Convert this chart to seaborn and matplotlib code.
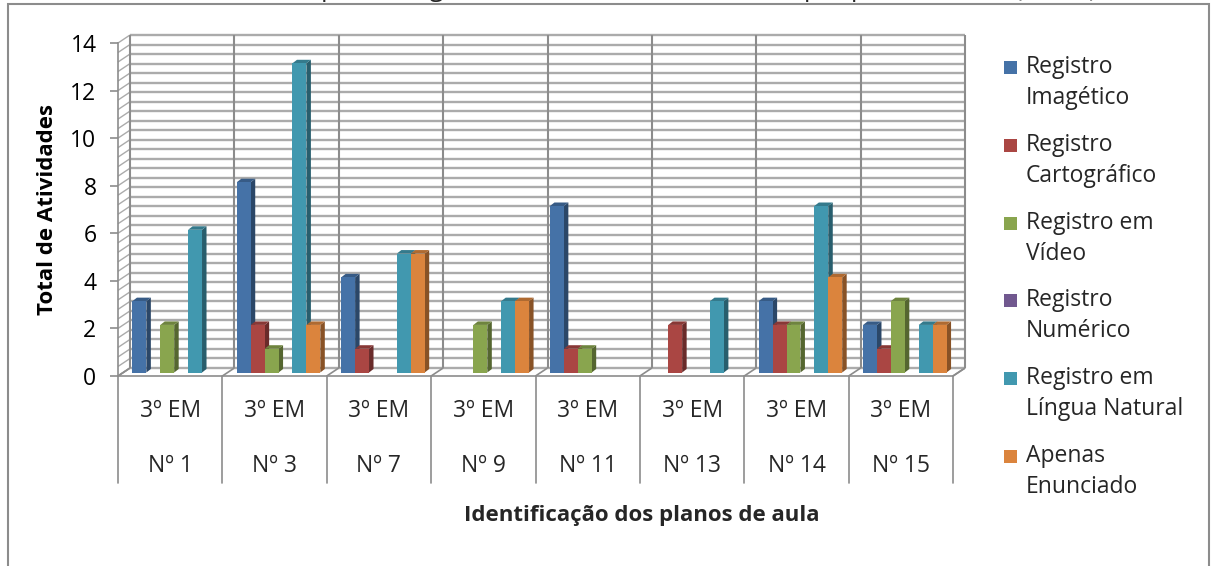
import numpy as np
import pandas as pd
import matplotlib
matplotlib.use("Agg")
import matplotlib.pyplot as plt
import matplotlib.transforms as mtrans
from matplotlib.patches import Polygon, Rectangle
from matplotlib.lines import Line2D
import seaborn as sns

# ---- data -------------------------------------------------------------
planos = ["Nº 1", "Nº 3", "Nº 7", "Nº 9", "Nº 11", "Nº 13", "Nº 14", "Nº 15"]
serie = "3º EM"
registros = ["Registro Imagético", "Registro Cartográfico", "Registro em Vídeo",
             "Registro Numérico", "Registro em Língua Natural", "Apenas Enunciado"]
legenda = [("Registro", "Imagético"), ("Registro", "Cartográfico"),
           ("Registro em", "Vídeo"), ("Registro", "Numérico"),
           ("Registro em", "Língua Natural"), ("Apenas", "Enunciado")]
imagetico = [3, 8, 4, 0, 7, 0, 3, 2]
cartografico = [0, 2, 1, 0, 1, 2, 2, 1]
video = [2, 1, 0, 2, 1, 0, 2, 3]
numerico = [0, 0, 0, 0, 0, 0, 0, 0]
lingua_natural = [6, 13, 5, 3, 0, 3, 7, 2]
apenas_enunciado = [0, 2, 5, 3, 0, 0, 4, 2]
cores = ["#4572A7", "#AA4643", "#89A54E", "#71588F", "#4198AF", "#DB843D"]
y_ticks = [0, 2, 4, 6, 8, 10, 12, 14]
titulo = "Tipos de registros utilizados nas atividades por plano de aula (3º EM)"

series = [imagetico, cartografico, video, numerico, lingua_natural, apenas_enunciado]
df = pd.DataFrame({
    "plano": np.tile(planos, len(registros)),
    "registro": np.repeat(registros, len(planos)),
    "total": np.concatenate(series),
})

# ---- figure -------------------------------------------------------------
sns.set_theme(style="white")
plt.rcParams["font.family"] = ["Open Sans", "DejaVu Sans"]
FS = 16.5      # regular text
FSB = 16       # bold axis titles

W, H = 1213, 566
fig = plt.figure(figsize=(W / 100, H / 100), dpi=100)
fig.patch.set_facecolor("white")


def fx(px):
    return px / W


def fy(py):
    return 1 - py / H


X0, X1, Y0, Y1 = 118, 953, 376, 43
ax = fig.add_axes([fx(X0), fy(Y0), fx(X1) - fx(X0), fy(Y1) - fy(Y0)])
ax.patch.set_visible(False)

WALL = (12.0, 8.0)     # depth shift of the back wall (pixels)
FRONT = (4.0, 3.5)     # shift of the bar front faces
DEPTH = (4.5, 3.5)     # bar thickness

grid_c = "#ABABAB"
edge_c = "#8C8C8C"

sns.barplot(data=df, x="plano", y="total", hue="registro", order=planos,
            hue_order=registros, palette=cores, saturation=1, width=0.8,
            edgecolor="none", linewidth=0, legend=False, ax=ax)
bars = sorted([p for p in ax.patches if isinstance(p, Rectangle)],
              key=lambda p: p.get_x())
ax.set_xlim(-0.5, len(planos) - 0.5)
ax.set_ylim(0, 14)

inv = fig.transFigure.inverted()


def pt(x, y, d=(0.0, 0.0)):
    px, py = ax.transData.transform((x, y))
    return inv.transform((px + d[0], py + d[1]))


def line(p0, p1, color, lw, z):
    ax.add_line(Line2D([p0[0], p1[0]], [p0[1], p1[1]], color=color, lw=lw,
                       transform=fig.transFigure, clip_on=False, zorder=z,
                       solid_capstyle="butt"))


xl, xr = -0.5, len(planos) - 0.5
# side wall and floor
ax.add_patch(Polygon([pt(xl, 0), pt(xl, 14), pt(xl, 14, WALL), pt(xl, 0, WALL)],
                     closed=True, facecolor="white", edgecolor="none",
                     transform=fig.transFigure, clip_on=False, zorder=0.2))
ax.add_patch(Polygon([pt(xl, 0), pt(xr, 0), pt(xr, 0, WALL), pt(xl, 0, WALL)],
                     closed=True, facecolor="white", edgecolor=edge_c, lw=1.2,
                     transform=fig.transFigure, clip_on=False, zorder=0.3))

# gridlines every 0.4 on the back wall, with matching diagonals on the side wall
for gy in np.arange(0, 14.001, 0.4):
    line(pt(xl, gy, WALL), pt(xr, gy, WALL), grid_c, 1.7, 0.4)
    line(pt(xl, gy), pt(xl, gy, WALL), grid_c, 1.0, 0.4)

# category boundaries: wall verticals and floor diagonals
for k in range(len(planos) + 1):
    bx = k - 0.5
    line(pt(bx, 0, WALL), pt(bx, 14, WALL), edge_c, 1.5, 0.5)
    line(pt(bx, 0), pt(bx, 0, WALL), edge_c, 1.2, 0.5)

# 3D faces of the bars
front_tr = mtrans.offset_copy(ax.transData, fig=fig, x=FRONT[0], y=FRONT[1], units="dots")
back = (FRONT[0] + DEPTH[0], FRONT[1] + DEPTH[1])
for i, b in enumerate(bars):
    x, w, h = b.get_x(), b.get_width(), b.get_height()
    z = 2 + i * 0.001
    b.set_transform(front_tr)
    b.set_clip_on(False)
    b.set_zorder(z + 0.0005)
    if h <= 0:
        b.set_visible(False)
        continue
    base = np.array(matplotlib.colors.to_rgb(b.get_facecolor()))
    side = Polygon([pt(x + w, 0, FRONT), pt(x + w, h, FRONT), pt(x + w, h, back), pt(x + w, 0, back)],
                   closed=True, facecolor=base * 0.62, edgecolor="none",
                   transform=fig.transFigure, clip_on=False, zorder=z)
    top = Polygon([pt(x, h, FRONT), pt(x + w, h, FRONT), pt(x + w, h, back), pt(x, h, back)],
                  closed=True, facecolor=base * 0.8, edgecolor="none",
                  transform=fig.transFigure, clip_on=False, zorder=z)
    ax.add_patch(side)
    ax.add_patch(top)

# axes styling
for s in ["top", "right", "bottom"]:
    ax.spines[s].set_visible(False)
ax.spines["left"].set_color(edge_c)
ax.spines["left"].set_linewidth(1.2)
ax.set_yticks(y_ticks)
ax.tick_params(axis="y", direction="out", length=5.5, width=1.2, color=edge_c,
               labelsize=FS, pad=10, labelcolor="black", left=True)
ax.set_xticks([])
ax.set_xlabel("")
ax.set_ylabel("Total de Atividades", fontsize=FSB, fontweight="bold", color="black")
ax.yaxis.set_label_coords(-0.072, 0.5)

# category table under the floor
for k in range(len(planos) + 1):
    px = ax.transData.transform((k - 0.5, 0))[0]
    fig.add_artist(Line2D([px / W, px / W], [fy(376), fy(483)], color=edge_c, lw=1.2,
                          transform=fig.transFigure))
btr = mtrans.blended_transform_factory(ax.transData, fig.transFigure)
for k, p in enumerate(planos):
    ax.text(k, fy(411), serie, transform=btr, ha="center", va="center",
            fontsize=FS, clip_on=False)
    ax.text(k, fy(466), p, transform=btr, ha="center", va="center",
            fontsize=FS, clip_on=False)

fig.text(fx(642), fy(516), "Identificação dos planos de aula", ha="center",
         va="center", fontsize=FSB, fontweight="bold")

# legend
for i, (l1, l2) in enumerate(legenda):
    yc = 67 + i * 77.8
    fig.add_artist(Rectangle((fx(1004), fy(yc + 7)), 13 / W, 13 / H,
                             facecolor=cores[i], edgecolor="none",
                             transform=fig.transFigure))
    fig.text(fx(1026), fy(yc), l1, ha="left", va="center", fontsize=FS)
    fig.text(fx(1026), fy(yc + 31), l2, ha="left", va="center", fontsize=FS)

# chart frame and title
fig.add_artist(Rectangle((fx(8), fy(580)), (1209 - 8) / W, (580 - 4) / H,
                         facecolor="none", edgecolor="#8C8C8C", lw=1.5,
                         transform=fig.transFigure))
fig.text(fx(1097), fy(-3.5), titulo, ha="right", va="baseline", fontsize=18)

fig.savefig("out.png", dpi=100)
